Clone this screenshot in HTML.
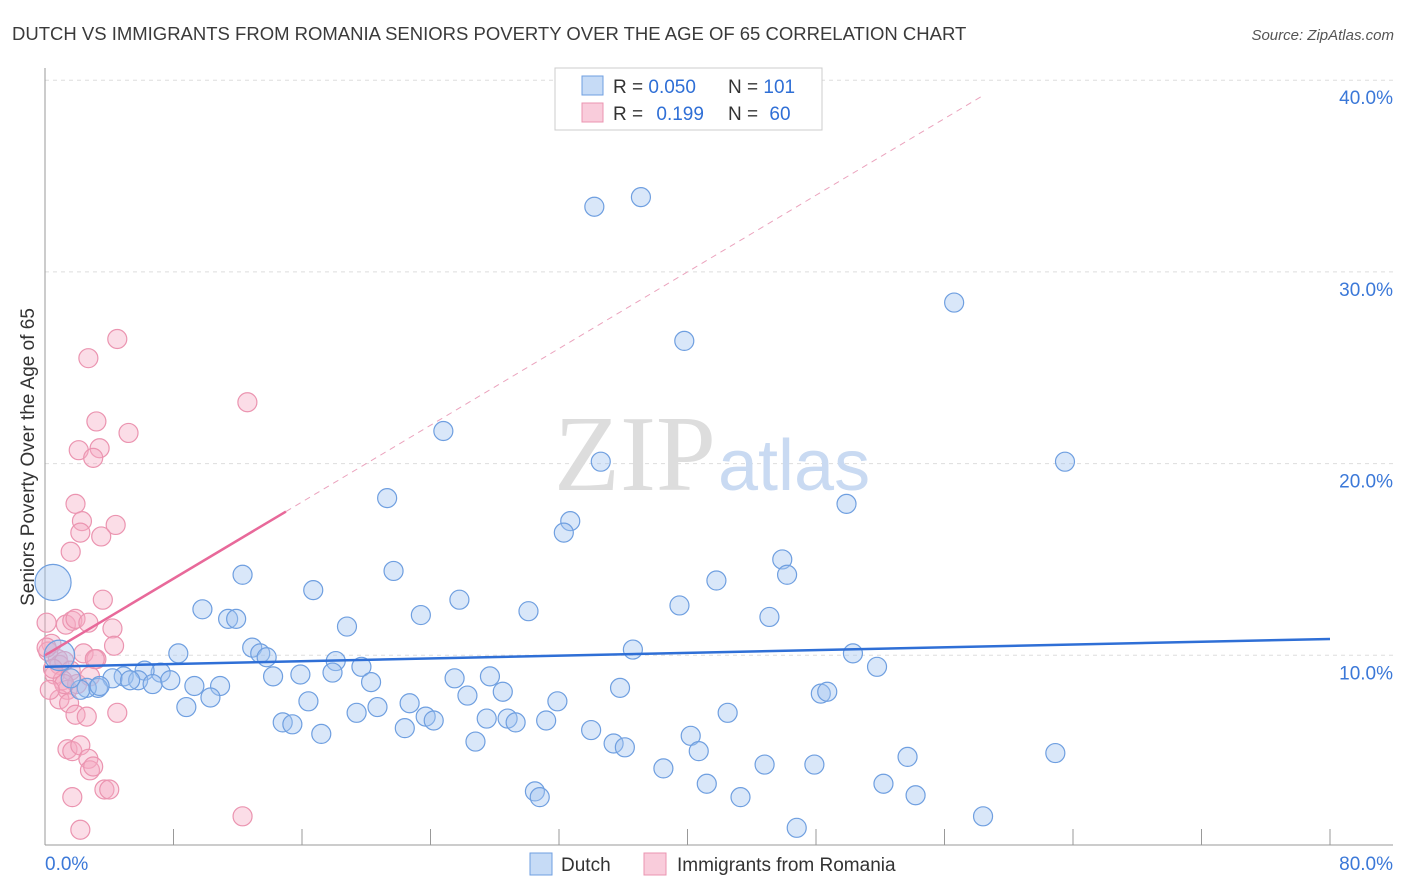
<!DOCTYPE html>
<html><head><meta charset="utf-8">
<style>
body{margin:0;background:#fff;font-family:"Liberation Sans",sans-serif;}
#wrap{position:relative;width:1406px;height:892px;overflow:hidden;}
</style></head>
<body>
<div id="wrap">
<svg id="chart" width="1406" height="892" xmlns="http://www.w3.org/2000/svg">
<text x="12" y="40" font-size="18.5" fill="#3a3a3a">DUTCH VS IMMIGRANTS FROM ROMANIA SENIORS POVERTY OVER THE AGE OF 65 CORRELATION CHART</text>
<text x="1394" y="40" font-size="15" fill="#555" text-anchor="end" font-style="italic">Source: ZipAtlas.com</text>
<text x="0" y="0" transform="translate(34,457) rotate(-90)" font-size="19" fill="#333" text-anchor="middle">Seniors Poverty Over the Age of 65</text>
<g id="grid"></g>
<text x="716" y="490" font-size="108" font-family="Liberation Serif,serif" fill="#ddd" text-anchor="end">ZIP</text>
<text x="718" y="490" font-size="72" fill="#c9daf2">atlas</text>
<g id="marks"></g>
<g id="legend">
<rect x="555" y="68" width="267" height="62" fill="#fff" stroke="#ccc"/>
<rect x="582" y="76" width="21" height="19" fill="rgba(160,195,240,0.6)" stroke="#6f9fe0"/>
<text x="613" y="93" font-size="19" fill="#333">R = <tspan fill="#2f6fd6">0.050</tspan></text>
<text x="728" y="93" font-size="19" fill="#333">N = <tspan fill="#2f6fd6">101</tspan></text>
<rect x="582" y="103" width="21" height="19" fill="rgba(245,170,195,0.6)" stroke="#eb94b0"/>
<text x="613" y="120" font-size="19" fill="#333">R = <tspan fill="#2f6fd6" dx="8">0.199</tspan></text>
<text x="728" y="120" font-size="19" fill="#333">N = <tspan fill="#2f6fd6" dx="6">60</tspan></text>
</g>
<g>
<rect x="530" y="853" width="22" height="22" fill="rgba(160,195,240,0.6)" stroke="#6f9fe0"/>
<text x="561" y="871" font-size="19" fill="#333">Dutch</text>
<rect x="644" y="853" width="22" height="22" fill="rgba(245,170,195,0.6)" stroke="#eb94b0"/>
<text x="677" y="871" font-size="19" fill="#333">Immigrants from Romania</text>
</g>
</svg>
</div>
<script>
const yTicks=[10,20,30,40];
const yTickLabels=["10.0%","20.0%","30.0%","40.0%"];
const xTicks=[0,8,16,24,32,40,48,56,64,72,80];
const xEndLabels=["0.0%","80.0%"];
const dutchX=[34.2,37.1,39.8,56.6,24.8,34.6,63.5,21.3,49.9,32.7,32.3,45.9,46.2,41.8,21.7,12.3,16.7,25.8,9.8,11.4,11.9,23.4,30.1,39.5,45.1,18.8,36.6,50.3,51.8,12.9,13.4,13.8,8.3,18.1,19.7,7.2,6.2,4.9,4.2,5.8,5.3,6.7,7.8,9.3,10.9,14.2,15.9,17.9,20.3,25.5,27.7,28.5,35.8,48.3,48.7,3.3,2.6,2.2,1.6,8.8,10.3,16.4,19.4,20.7,22.7,23.7,24.2,26.3,27.5,28.8,29.3,31.2,31.9,42.5,14.8,15.4,17.2,22.4,34.0,35.4,36.1,40.2,40.7,26.8,38.5,41.2,43.3,44.8,47.9,52.2,53.7,54.2,62.9,30.5,30.8,58.4,46.8,3.4,0.5,0.9];
const dutchY=[33.4,33.9,26.4,28.4,21.7,20.1,20.1,18.2,17.9,17.0,16.4,15.0,14.2,13.9,14.4,14.2,13.4,12.9,12.4,11.9,11.9,12.1,12.3,12.6,12.0,11.5,10.3,10.1,9.4,10.4,10.1,9.9,10.1,9.7,9.4,9.1,9.2,8.9,8.8,8.7,8.7,8.5,8.7,8.4,8.4,8.9,9.0,9.1,8.6,8.8,8.9,8.1,8.3,8.0,8.1,8.3,8.3,8.2,8.8,7.3,7.8,7.6,7.0,7.3,7.5,6.8,6.6,7.9,6.7,6.7,6.5,6.6,7.6,7.0,6.5,6.4,5.9,6.2,6.1,5.4,5.2,5.8,5.0,5.5,4.1,3.3,2.6,4.3,4.3,3.3,4.7,2.7,4.9,2.9,2.6,1.6,1.0,8.4,13.8,10.0];
const dutchSize=[1,1,1,1,1,1,1,1,1,1,1,1,1,1,1,1,1,1,1,1,1,1,1,1,1,1,1,1,1,1,1,1,1,1,1,1,1,1,1,1,1,1,1,1,1,1,1,1,1,1,1,1,1,1,1,1,1,1,1,1,1,1,1,1,1,1,1,1,1,1,1,1,1,1,1,1,1,1,1,1,1,1,1,1,1,1,1,1,1,1,1,1,1,1,1,1,1,1,1.9,1.6];
const romX=[4.5,2.7,12.6,3.2,5.2,3.4,2.1,3.0,1.9,4.4,2.3,2.2,3.5,1.6,3.6,0.1,1.3,1.7,1.9,2.7,4.2,4.3,0.4,0.2,0.8,0.9,1.2,1.6,2.4,3.2,0.6,1.1,1.4,2.0,2.8,3.1,0.9,1.5,1.9,2.6,4.5,1.4,1.7,2.2,2.7,2.8,3.0,3.7,4.0,1.7,2.2,12.3,0.1,0.5,1.2,0.3];
const romY=[26.5,25.5,23.2,22.2,21.6,20.8,20.7,20.3,17.9,16.8,17.0,16.4,16.2,15.4,12.9,11.7,11.6,11.8,11.9,11.7,11.4,10.5,10.6,10.2,9.8,9.5,9.7,9.2,10.1,9.8,9.0,8.7,8.2,8.5,8.9,9.8,7.7,7.5,6.9,6.8,7.0,5.1,5.0,5.3,4.6,4.0,4.2,3.0,3.0,2.6,0.9,1.6,10.4,9.3,8.5,8.2];
const dutchTrend=[9.4,10.85];
const romTrend=[10.0,0.5];
const X0=45,X1=1330,Y0=847,PX_PER=19.17;
function sx(v){return X0+v*(X1-X0)/80;}
function sy(v){return Y0-v*PX_PER;}
const NS="http://www.w3.org/2000/svg";
function mk(tag,attrs,parent){const e=document.createElementNS(NS,tag);for(const k in attrs)e.setAttribute(k,attrs[k]);parent.appendChild(e);return e;}
const grid=document.getElementById('grid');
const marks=document.getElementById('marks');
yTicks.forEach((t,i)=>{
  const l=mk('line',{x1:X0,x2:1393,y1:sy(t),y2:sy(t),stroke:'#ddd','stroke-dasharray':'4,4'},grid);
  
  
  const tx=mk('text',{x:1393,y:sy(t)+24,'font-size':19,fill:'#3b78d8','text-anchor':'end'},grid);
  tx.textContent=yTickLabels[i];
  
  
});
const ax=mk('line',{x1:X0,x2:X0,y1:68,y2:845,stroke:'#999'},grid);


const bx=mk('line',{x1:X0,x2:1393,y1:845,y2:845,stroke:'#999'},grid);


xTicks.forEach(t=>{
  const l=mk('line',{x1:sx(t),x2:sx(t),y1:829,y2:845,stroke:'#999'},grid);
  
  
});
[[0,'start',45],[80,'end',1393]].forEach((d,i)=>{
  const tx=mk('text',{x:d[2],y:870,'font-size':19,fill:'#3b78d8','text-anchor':d[1]},grid);
  tx.textContent=xEndLabels[i];
  
  
});
romX.forEach((x,i)=>{
  const c=mk('circle',{cx:sx(x),cy:sy(romY[i]),r:9.5,fill:'rgba(245,170,195,0.4)',stroke:'#eb94b0','stroke-width':1.2},marks);
  
  
});
dutchX.forEach((x,i)=>{
  const c=mk('circle',{cx:sx(x),cy:sy(dutchY[i]),r:9.5*dutchSize[i],fill:'rgba(160,195,240,0.4)',stroke:'#6f9fe0','stroke-width':1.2},marks);
  
  
});
const bl=mk('line',{x1:sx(0),y1:sy(dutchTrend[0]),x2:sx(80),y2:sy(dutchTrend[1]),stroke:'#2f6fd6','stroke-width':2.5},marks);


const pl=mk('line',{x1:sx(0),y1:sy(romTrend[0]),x2:sx(15),y2:sy(romTrend[0]+romTrend[1]*15),stroke:'#e8699a','stroke-width':2.5},marks);


const pd=mk('line',{x1:sx(15),y1:sy(romTrend[0]+romTrend[1]*15),x2:sx(58.5),y2:sy(romTrend[0]+romTrend[1]*58.5),stroke:'#eba3bd','stroke-width':1,'stroke-dasharray':'6,5'},marks);


</script>
</body></html>
